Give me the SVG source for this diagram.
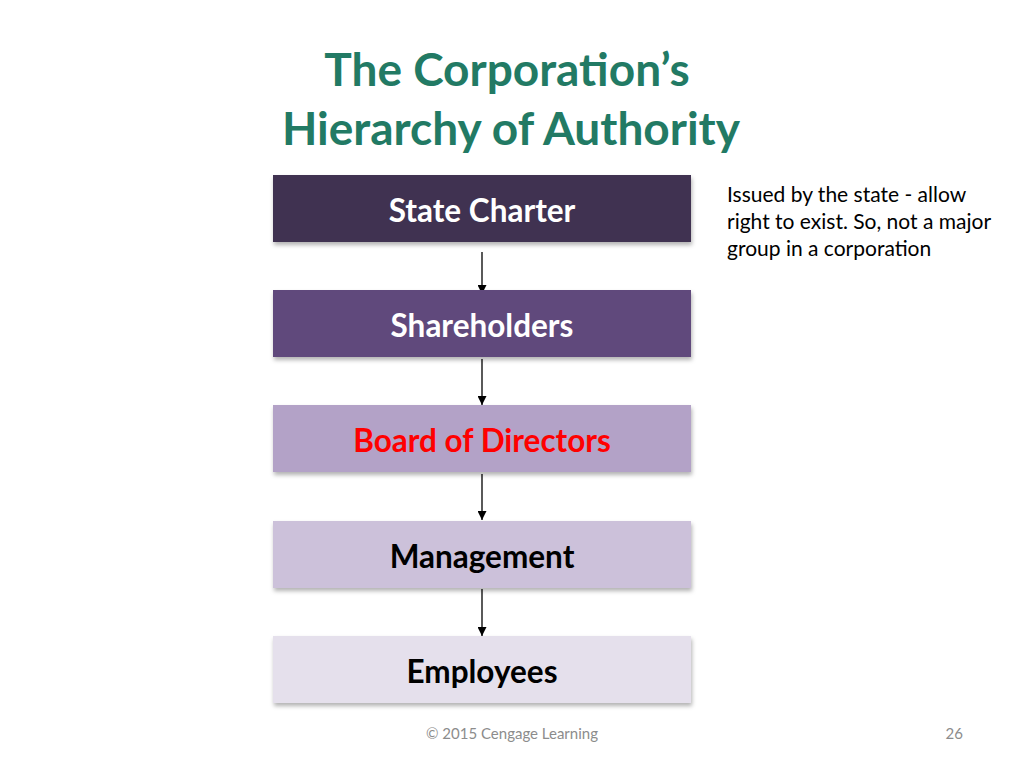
<svg xmlns="http://www.w3.org/2000/svg" width="1024" height="768" viewBox="0 0 1024 768">
<style>
.title{font-family:Lato,"Open Sans","Liberation Sans",sans-serif;font-weight:bold;font-size:46px;fill:#227A64;text-anchor:middle}
.lbl{font-family:Lato,"Open Sans","Liberation Sans",sans-serif;font-weight:bold;font-size:31.5px;text-anchor:middle}
.note{font-family:Lato,"Open Sans","Liberation Sans",sans-serif;font-size:21px;fill:#000}
.foot{font-family:Lato,"Open Sans","Liberation Sans",sans-serif;font-size:15px;fill:#8C8C8C}
.box{filter:url(#sh)}
.conn{stroke:#000;stroke-width:1.3;fill:none;marker-end:url(#ah)}
</style>
<defs>
<filter id="sh" x="-5%" y="-10%" width="110%" height="130%">
<feDropShadow dx="1" dy="3" stdDeviation="2" flood-color="#000" flood-opacity="0.3"/>
</filter>
<marker id="ah" markerWidth="9" markerHeight="9" refX="9" refY="4.5" orient="auto" markerUnits="userSpaceOnUse">
<path d="M0,0 L9,4.5 L0,9 z" fill="#000"/>
</marker>
</defs>
<rect width="1024" height="768" fill="#fff"/>
<text class="title" x="507" y="86">The Corporation’s</text>
<text class="title" x="511" y="145">Hierarchy of Authority</text>
<g id="connectors">
<line class="conn" x1="482" y1="252" x2="482" y2="294"/>
<line class="conn" x1="482" y1="359" x2="482" y2="405"/>
<line class="conn" x1="482" y1="474" x2="482" y2="520"/>
<line class="conn" x1="482" y1="589" x2="482" y2="636"/>
</g>
<g id="state-charter">
<rect class="box" x="273" y="175" width="418" height="67" fill="#3F3151"/>
<text class="lbl" x="482" y="222" fill="#fff">State Charter</text>
</g>
<g id="shareholders">
<rect class="box" x="273" y="290" width="418" height="67" fill="#604A7B"/>
<text class="lbl" x="482" y="337" fill="#fff">Shareholders</text>
</g>
<g id="board">
<rect class="box" x="273" y="405" width="418" height="67" fill="#B3A2C7"/>
<text class="lbl" x="482" y="452" fill="#FF0000">Board of Directors</text>
</g>
<g id="management">
<rect class="box" x="273" y="521" width="418" height="67" fill="#CCC1DA"/>
<text class="lbl" x="482" y="568" fill="#000">Management</text>
</g>
<g id="employees">
<rect class="box" x="273" y="636" width="418" height="67" fill="#E5E0EC"/>
<text class="lbl" x="482" y="683" fill="#000">Employees</text>
</g>
<g id="note">
<text class="note" x="727" y="202">Issued by the state - allow</text>
<text class="note" x="727" y="229">right to exist. So, not a major</text>
<text class="note" x="727" y="256">group in a corporation</text>
</g>
<text class="foot" x="512" y="739" text-anchor="middle">© 2015 Cengage Learning</text>
<text class="foot" x="963" y="739" text-anchor="end">26</text>
</svg>
